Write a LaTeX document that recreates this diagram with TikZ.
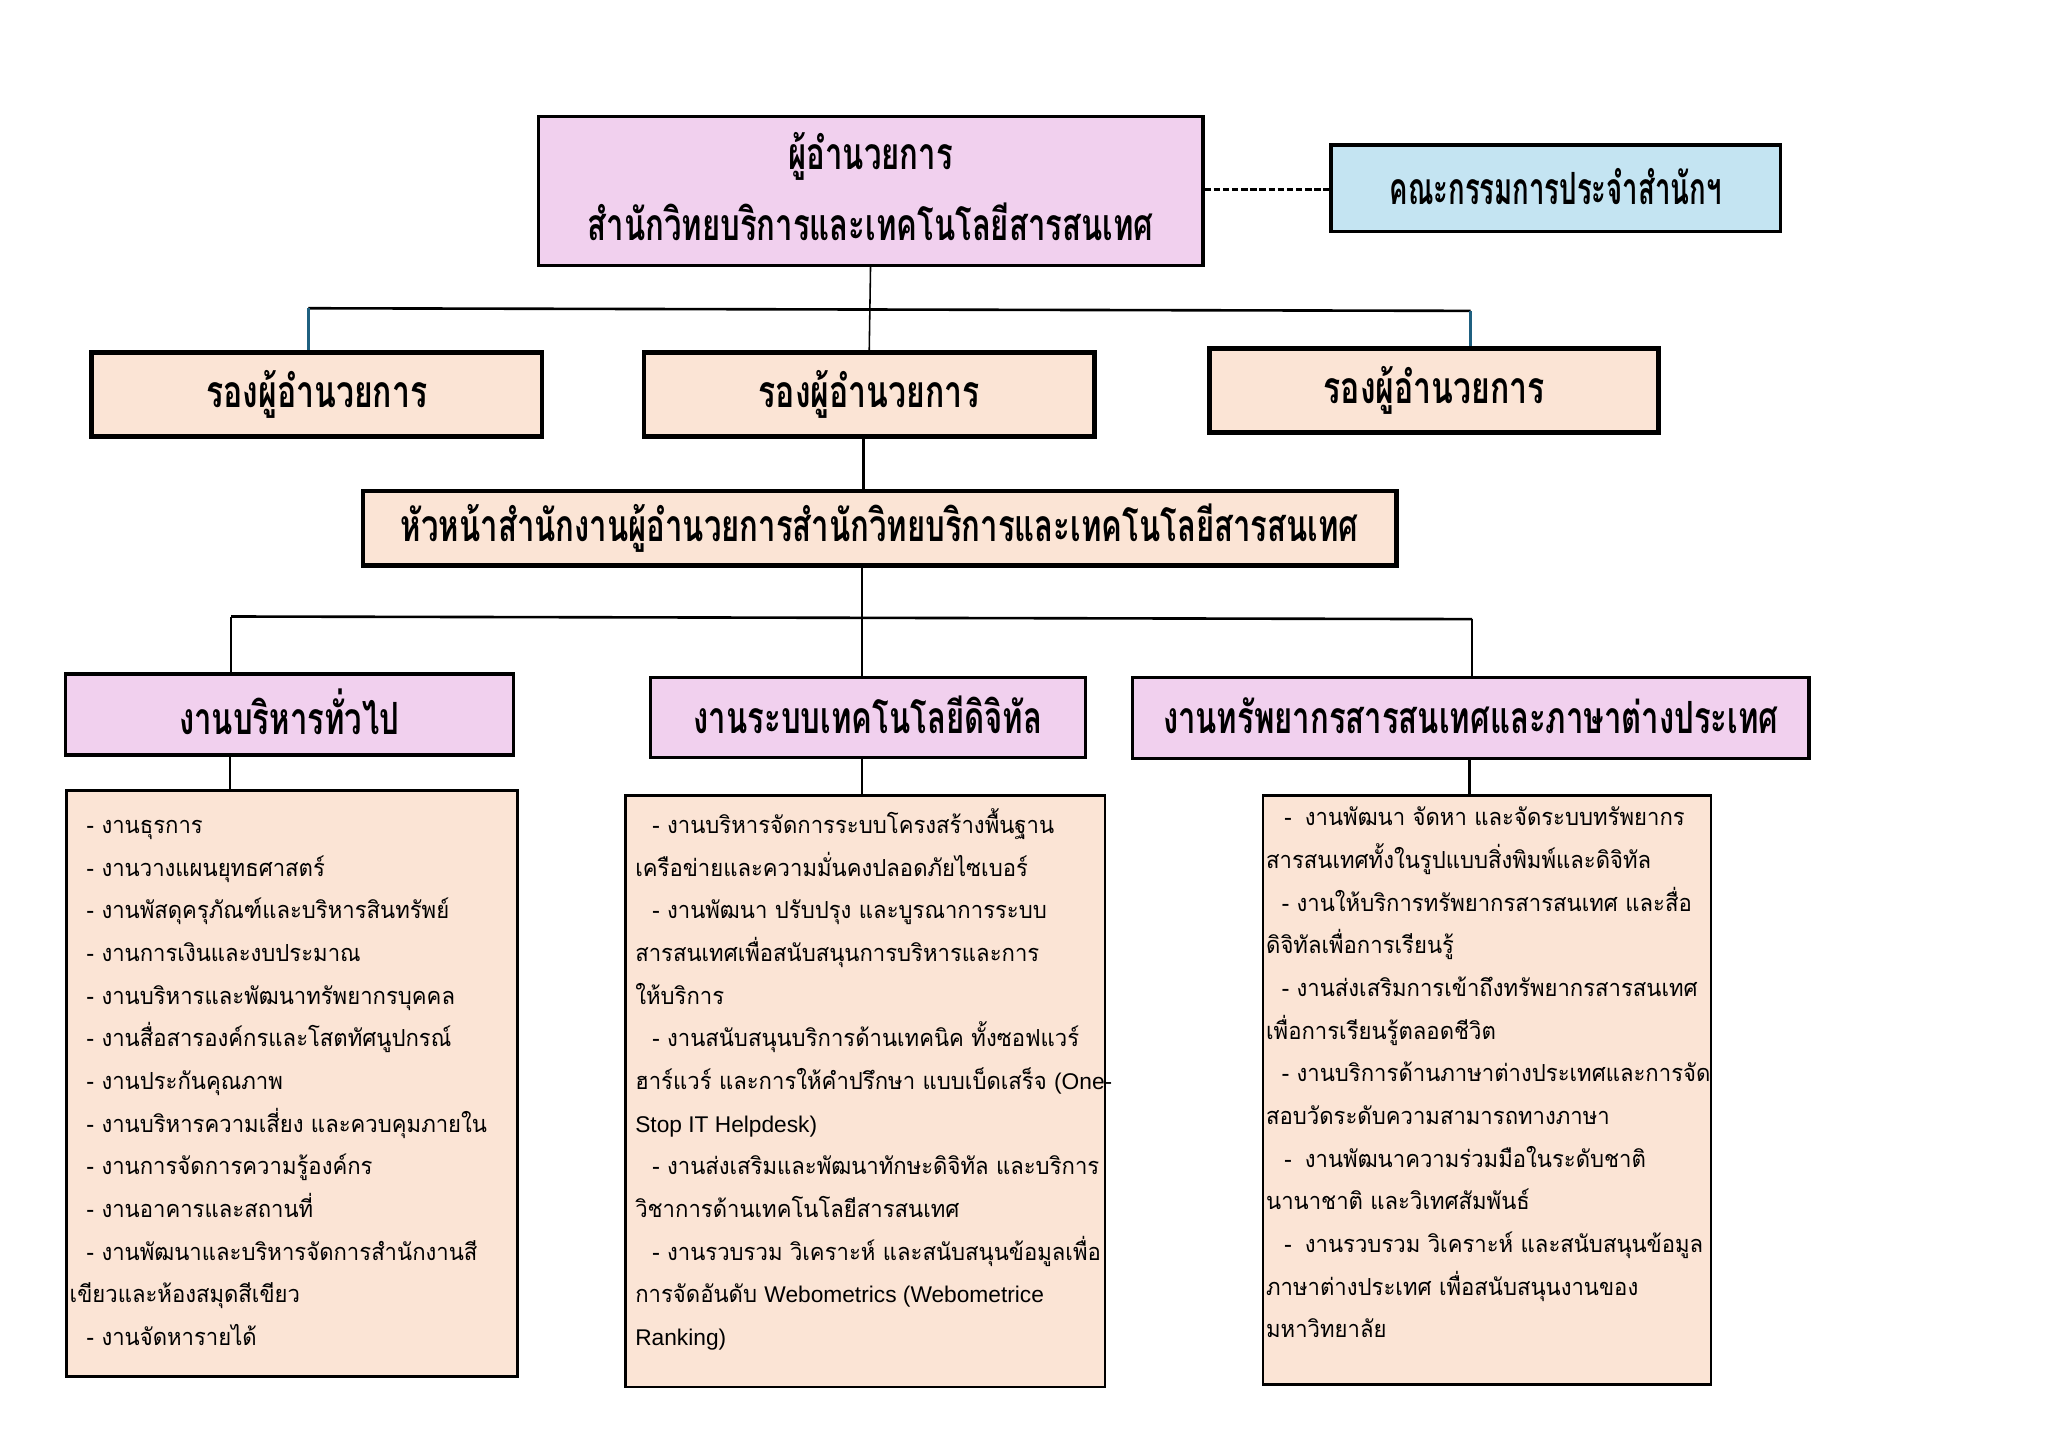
\documentclass[tikz,border=0pt]{standalone}
\usepackage{fontspec}
\newfontfamily\thaibody[Script=Thai,FakeStretch=0.94]{Loma}
\newfontfamily\thaititle[Script=Thai,FakeStretch=0.70]{Loma}
\newfontfamily\thaidep[Script=Thai,FakeStretch=0.72]{Loma}
\newfontfamily\thaicomm[Script=Thai,FakeStretch=0.62]{Loma}
\newfontfamily\latinf{Liberation Sans}
\newcommand{\lat}[1]{{\latinf\fontsize{8.7}{16.33}\selectfont #1}}
\definecolor{pinkfill}{HTML}{F1D0EE}
\definecolor{peachfill}{HTML}{FBE4D5}
\definecolor{bluefill}{HTML}{C4E4F2}
\definecolor{tealline}{HTML}{1F6080}
\tikzset{
  boxbase/.style={draw=black, rectangle, inner sep=0pt, align=center},
  titlebox/.style={boxbase, line width=1.2pt, font=\thaititle\bfseries\fontsize{17}{27}\selectfont},
  commbox/.style={boxbase, line width=1.2pt, font=\thaicomm\bfseries\fontsize{17}{27}\selectfont},
  depbox/.style={boxbase, fill=peachfill, line width=1.8pt, font=\thaidep\bfseries\fontsize{17}{27}\selectfont},
  detailbox/.style={draw=black, rectangle, inner sep=0pt, fill=peachfill, line width=1pt},
  bodytext/.style={inner sep=0pt, anchor=north west, align=left, font=\thaibody\fontsize{9}{16.33}\selectfont},
  conn/.style={line width=1pt, black},
  thinconn/.style={line width=0.6pt, black},
  tealconn/.style={line width=1pt, tealline},
}
\begin{document}
\begin{tikzpicture}[x=0.5pt,y=-0.5pt]
\useasboundingbox (0,0) rectangle (1568,1109);
% top
\node[titlebox, fill=pinkfill, minimum width=254.5pt, minimum height=57pt] (top) at (666.5,146) {\raisebox{1.5pt}{\begin{tabular}{@{}c@{}}ผู้อำนวยการ\\สำนักวิทยบริการและเทคโนโลยีสารสนเทศ\end{tabular}}};
\node[commbox, fill=bluefill, minimum width=172pt, minimum height=33pt] (comm) at (1191,144) {\raisebox{1pt}{คณะกรรมการประจำสำนักฯ}};
% deputies
\node[depbox, minimum width=172.5pt, minimum height=32pt] (depL) at (242.5,302) {รองผู้อำนวยการ};
\node[depbox, minimum width=172.5pt, minimum height=32pt] (depM) at (665.5,302) {รองผู้อำนวยการ};
\node[depbox, minimum width=172pt, minimum height=32pt] (depR) at (1098,299) {รองผู้อำนวยการ};
% head
\node[depbox, font=\thaititle\bfseries\fontsize{17}{27}\selectfont, minimum width=395.5pt, minimum height=28.5pt] (head) at (673.5,404.5) {หัวหน้าสำนักงานผู้อำนวยการสำนักวิทยบริการและเทคโนโลยีสารสนเทศ};
% sections
\node[titlebox, fill=pinkfill, minimum width=171.5pt, minimum height=31pt] (secL) at (221.5,547) {\raisebox{2pt}{งานบริหารทั่วไป}};
\node[titlebox, fill=pinkfill, minimum width=166.5pt, minimum height=30.5pt] (secM) at (664.5,549.5) {\raisebox{2pt}{งานระบบเทคโนโลยีดิจิทัล}};
\node[titlebox, fill=pinkfill, minimum width=259pt, minimum height=31pt] (secR) at (1126,550) {\raisebox{2pt}{งานทรัพยากรสารสนเทศและภาษาต่างประเทศ}};
% detail boxes
\node[detailbox, minimum width=172.5pt, minimum height=224.5pt] (detL) at (223.5,829.5) {};
\node[detailbox, minimum width=183.5pt, minimum height=226.5pt] (detM) at (662.5,835.5) {};
\node[detailbox, minimum width=171.5pt, minimum height=225.5pt] (detR) at (1138.5,834.5) {};
% detail texts
\node[bodytext] (txtL) at (53,615) {\strut\hspace{6.5pt}- งานธุรการ\\
\hspace{6.5pt}- งานวางแผนยุทธศาสตร์\\
\hspace{6.5pt}- งานพัสดุครุภัณฑ์และบริหารสินทรัพย์\\
\hspace{6.5pt}- งานการเงินและงบประมาณ\\
\hspace{6.5pt}- งานบริหารและพัฒนาทรัพยากรบุคคล\\
\hspace{6.5pt}- งานสื่อสารองค์กรและโสตทัศนูปกรณ์\\
\hspace{6.5pt}- งานประกันคุณภาพ\\
\hspace{6.5pt}- งานบริหารความเสี่ยง และควบคุมภายใน\\
\hspace{6.5pt}- งานการจัดการความรู้องค์กร\\
\hspace{6.5pt}- งานอาคารและสถานที่\\
\hspace{6.5pt}- งานพัฒนาและบริหารจัดการสำนักงานสี\\
เขียวและห้องสมุดสีเขียว\\
\hspace{6.5pt}- งานจัดหารายได้};
\node[bodytext] (txtM) at (486,615) {\strut\hspace{6.5pt}- งานบริหารจัดการระบบโครงสร้างพื้นฐาน\\
เครือข่ายและความมั่นคงปลอดภัยไซเบอร์\\
\hspace{6.5pt}- งานพัฒนา ปรับปรุง และบูรณาการระบบ\\
สารสนเทศเพื่อสนับสนุนการบริหารและการ\\
ให้บริการ\\
\hspace{6.5pt}- งานสนับสนุนบริการด้านเทคนิค ทั้งซอฟแวร์\\
ฮาร์แวร์ และการให้คำปรึกษา แบบเบ็ดเสร็จ \lat{(One-}\\
\lat{Stop IT Helpdesk)}\\
\hspace{6.5pt}- งานส่งเสริมและพัฒนาทักษะดิจิทัล และบริการ\\
วิชาการด้านเทคโนโลยีสารสนเทศ\\
\hspace{6.5pt}- งานรวบรวม วิเคราะห์ และสนับสนุนข้อมูลเพื่อ\\
การจัดอันดับ \lat{Webometrics (Webometrice}\\
\lat{Ranking)}};
\node[bodytext] (txtR) at (969,609) {\strut\hspace{7pt}-\hspace{5pt}งานพัฒนา จัดหา และจัดระบบทรัพยากร\\
สารสนเทศทั้งในรูปแบบสิ่งพิมพ์และดิจิทัล\\
\hspace{6pt}- งานให้บริการทรัพยากรสารสนเทศ และสื่อ\\
ดิจิทัลเพื่อการเรียนรู้\\
\hspace{6pt}- งานส่งเสริมการเข้าถึงทรัพยากรสารสนเทศ\\
เพื่อการเรียนรู้ตลอดชีวิต\\
\hspace{6pt}- งานบริการด้านภาษาต่างประเทศและการจัด\\
สอบวัดระดับความสามารถทางภาษา\\
\hspace{7pt}-\hspace{5pt}งานพัฒนาความร่วมมือในระดับชาติ\\
นานาชาติ และวิเทศสัมพันธ์\\
\hspace{7pt}-\hspace{5pt}งานรวบรวม วิเคราะห์ และสนับสนุนข้อมูล\\
ภาษาต่างประเทศ เพื่อสนับสนุนงานของ\\
มหาวิทยาลัย};
% connectors
\draw[line width=1pt, dash pattern=on 2.5pt off 1pt] (top.east |- 0,145) coordinate (dsA) -- (comm.west |- 0,145) coordinate (dsB);
\coordinate (hL) at (236,236);
\coordinate (hR) at (1126,238);
\draw[conn] (hL) -- (hR);
\draw[thinconn] (top.south) -- (depM.north);
\draw[tealconn] (hL) -- (hL |- depL.north);
\draw[tealconn] (hR) -- (hR |- depR.north);
\coordinate (vx1) at (661,0);
\draw[conn] (depM.south -| vx1) -- (head.north -| vx1);
\coordinate (gL) at (177,472);
\coordinate (gM) at (660,473);
\coordinate (gR) at (1127,474);
\draw[conn] (gL) -- (gR);
\draw[conn] (head.south -| gM) -- (gM);
\draw[conn] (gL) -- (gL |- secL.north);
\draw[conn] (gM) -- (gM |- secM.north);
\draw[conn] (gR) -- (gR |- secR.north);
\coordinate (kL) at (176,0);
\coordinate (kM) at (660,0);
\coordinate (kR) at (1125,0);
\draw[conn] (secL.south -| kL) -- (detL.north -| kL);
\draw[conn] (secM.south -| kM) -- (detM.north -| kM);
\draw[conn] (secR.south -| kR) -- (detR.north -| kR);
\end{tikzpicture}
\end{document}
